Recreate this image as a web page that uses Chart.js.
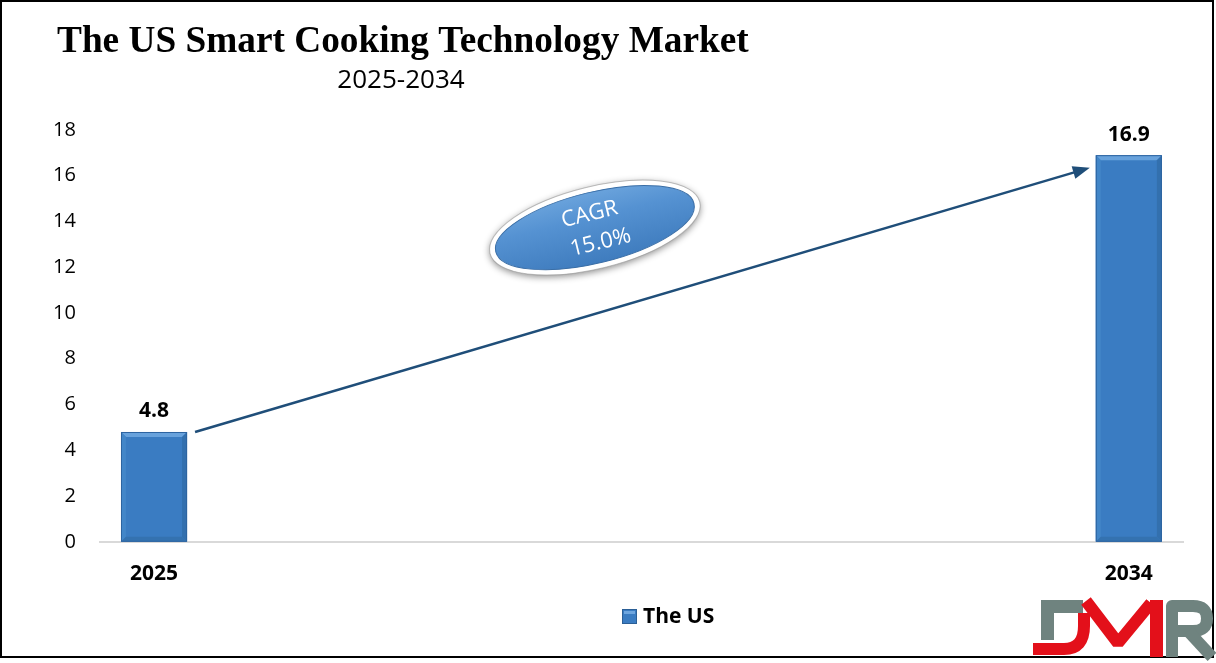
<!DOCTYPE html>
<html><head><meta charset="utf-8">
<script src="https://cdn.jsdelivr.net/npm/chart.js@4.4.1/dist/chart.umd.min.js"></script>
<style>html,body{margin:0;padding:0;background:#fff;}#wrap{width:1216px;height:663px;position:relative;}</style>
</head><body><div id="wrap"><canvas id="c" width="1216" height="663"></canvas></div>
<script>
const titleText = 'The US Smart Cooking Technology Market';
const subtitleText = '2025-2034';
const years = ['2025','2026','2027','2028','2029','2030','2031','2032','2033','2034'];
const values = [4.8, null, null, null, null, null, null, null, null, 16.9];
const seriesName = 'The US';
const cagrLines = ['CAGR', '15.0%'];
const yTicks = [0, 18, 2];

const BAR = '#3a7cc2';

const decor = {
  id: 'decor',
  beforeDraw(chart) {
    const ctx = chart.ctx;
    ctx.save();
    ctx.fillStyle = '#fff';
    ctx.fillRect(0, 0, chart.width, chart.height);
    ctx.restore();
  },
  afterDatasetsDraw(chart) {
    const ctx = chart.ctx;
    const meta = chart.getDatasetMeta(0);
    const ys = chart.scales.y;
    // bevel overlays on bars
    meta.data.forEach((el, i) => {
      if (values[i] == null) return;
      const l = el.x - el.width / 2, r = el.x + el.width / 2, t = el.y, b = el.base;
      const bv = 5;
      ctx.save();
      ctx.fillStyle = '#68a2dc';
      ctx.beginPath();
      ctx.moveTo(l, t); ctx.lineTo(r, t); ctx.lineTo(r - bv, t + bv); ctx.lineTo(l + bv, t + bv); ctx.closePath(); ctx.fill();
      ctx.fillStyle = '#4286c8';
      ctx.beginPath();
      ctx.moveTo(l, t); ctx.lineTo(l + bv, t + bv); ctx.lineTo(l + bv, b - bv); ctx.lineTo(l, b); ctx.closePath(); ctx.fill();
      ctx.fillStyle = '#3370ae';
      ctx.beginPath();
      ctx.moveTo(r, t); ctx.lineTo(r - bv, t + bv); ctx.lineTo(r - bv, b - bv); ctx.lineTo(r, b); ctx.closePath(); ctx.fill();
      ctx.fillStyle = '#3472b0';
      ctx.beginPath();
      ctx.moveTo(l, b); ctx.lineTo(l + bv, b - bv); ctx.lineTo(r - bv, b - bv); ctx.lineTo(r, b); ctx.closePath(); ctx.fill();
      ctx.strokeStyle = '#2d64a0';
      ctx.lineWidth = 1;
      ctx.strokeRect(l + 0.5, t + 0.5, el.width - 1, b - t - 1);
      ctx.restore();
    });
    // data labels
    ctx.save();
    ctx.font = 'bold 21px "Open Sans"';
    ctx.fillStyle = '#000';
    ctx.textAlign = 'center';
    ctx.textBaseline = 'bottom';
    meta.data.forEach((el, i) => {
      if (values[i] == null) return;
      ctx.fillText(values[i].toFixed(1), el.x, el.y - 10);
    });
    ctx.restore();
    // arrow
    const first = meta.data[0], last = meta.data[values.length - 1];
    const x1 = first.x + first.width / 2 + 8, y1 = ys.getPixelForValue(values[0]);
    const x2 = last.x - last.width / 2 - 6, y2 = ys.getPixelForValue(values[values.length - 1] - 0.55);
    ctx.save();
    ctx.strokeStyle = '#1f4e79';
    ctx.fillStyle = '#1f4e79';
    ctx.lineWidth = 2.5;
    const ang = Math.atan2(y2 - y1, x2 - x1);
    const hl = 17;
    ctx.beginPath();
    ctx.moveTo(x1, y1);
    ctx.lineTo(x2 - hl * 0.8 * Math.cos(ang), y2 - hl * 0.8 * Math.sin(ang));
    ctx.stroke();
    ctx.beginPath();
    ctx.moveTo(x2, y2);
    ctx.lineTo(x2 - hl * Math.cos(ang) + 6.5 * Math.sin(ang), y2 - hl * Math.sin(ang) - 6.5 * Math.cos(ang));
    ctx.lineTo(x2 - hl * Math.cos(ang) - 6.5 * Math.sin(ang), y2 - hl * Math.sin(ang) + 6.5 * Math.cos(ang));
    ctx.closePath();
    ctx.fill();
    ctx.restore();
    // CAGR ellipse
    const ca = chart.chartArea;
    const cx = ca.left + (ca.right - ca.left) * 0.457;
    const cy = ca.top + (ca.bottom - ca.top) * 0.237;
    ctx.save();
    ctx.translate(cx, cy);
    ctx.rotate(-0.24);
    ctx.shadowColor = 'rgba(0,0,0,0.45)';
    ctx.shadowBlur = 7;
    ctx.shadowOffsetY = 2;
    ctx.beginPath();
    ctx.ellipse(0, 0, 108, 41, 0, 0, Math.PI * 2);
    ctx.fillStyle = '#fff';
    ctx.fill();
    ctx.shadowColor = 'transparent';
    ctx.strokeStyle = 'rgba(150,150,150,0.6)';
    ctx.lineWidth = 1;
    ctx.stroke();
    ctx.beginPath();
    ctx.ellipse(0, 0, 102, 35.5, 0, 0, Math.PI * 2);
    const g = ctx.createLinearGradient(0, -36, 0, 36);
    g.addColorStop(0, '#6aa3dc');
    g.addColorStop(0.35, '#5592d2');
    g.addColorStop(1, '#3f7cbe');
    ctx.fillStyle = g;
    ctx.fill();
    ctx.strokeStyle = '#3a6ea6';
    ctx.lineWidth = 1;
    ctx.stroke();
    ctx.fillStyle = '#fff';
    ctx.font = '22px "Open Sans"';
    ctx.textAlign = 'center';
    ctx.textBaseline = 'middle';
    ctx.fillText(cagrLines[0], -2, -14);
    ctx.fillText(cagrLines[1], 2, 16);
    ctx.restore();
  },
  afterDraw(chart) {
    const ctx = chart.ctx;
    ctx.save();
    // title
    ctx.fillStyle = '#000';
    ctx.font = 'bold 37.3px "Liberation Serif"';
    ctx.textAlign = 'left';
    ctx.textBaseline = 'alphabetic';
    ctx.fillText(titleText, 57, 52);
    ctx.font = '26px "Open Sans"';
    ctx.textAlign = 'center';
    ctx.fillText(subtitleText, 401, 88);
    // legend
    const lx = 622, ly = 616;
    ctx.fillStyle = BAR;
    ctx.fillRect(lx, ly - 7, 15, 15);
    ctx.strokeStyle = '#2b5f96';
    ctx.lineWidth = 1;
    ctx.strokeRect(lx + 0.5, ly - 6.5, 14, 14);
    ctx.fillStyle = '#6ea6df';
    ctx.fillRect(lx + 2, ly - 5, 11, 3);
    ctx.fillStyle = '#000';
    ctx.font = 'bold 21px "Open Sans"';
    ctx.textAlign = 'left';
    ctx.textBaseline = 'middle';
    ctx.fillText(seriesName, lx + 21, ly + 1);
    // frame
    ctx.strokeStyle = '#000';
    ctx.lineWidth = 2;
    ctx.strokeRect(1, 1, 1212, 656);
    // logo
    const grey = '#6f837f', red = '#e3101a';
    ctx.lineCap = 'butt';
    ctx.fillStyle = grey;
    ctx.beginPath();
    ctx.moveTo(1041, 600); ctx.lineTo(1083, 600); ctx.lineTo(1083, 613); ctx.lineTo(1054, 613);
    ctx.lineTo(1054, 640); ctx.lineTo(1041, 640); ctx.closePath(); ctx.fill();
    ctx.strokeStyle = red;
    ctx.lineWidth = 12;
    ctx.lineJoin = 'miter';
    ctx.beginPath();
    ctx.moveTo(1033, 649); ctx.lineTo(1064, 649);
    ctx.quadraticCurveTo(1084, 649, 1084, 626);
    ctx.lineTo(1084, 613);
    ctx.stroke();
    ctx.lineJoin = 'bevel';
    ctx.beginPath();
    ctx.moveTo(1086, 601); ctx.lineTo(1118, 643); ctx.lineTo(1151, 603);
    ctx.stroke();
    ctx.fillStyle = red;
    ctx.fillRect(1150, 600, 13, 57);
    ctx.strokeStyle = grey;
    ctx.lineWidth = 12;
    ctx.lineJoin = 'round';
    ctx.beginPath();
    ctx.moveTo(1172, 657); ctx.lineTo(1172, 606); ctx.lineTo(1193, 606);
    ctx.quadraticCurveTo(1207, 606, 1207, 618.5);
    ctx.quadraticCurveTo(1207, 631, 1193, 631); ctx.lineTo(1176, 631);
    ctx.stroke();
    ctx.lineJoin = 'miter';
    ctx.beginPath();
    ctx.moveTo(1188, 631); ctx.lineTo(1212, 657); ctx.stroke();
    ctx.restore();
  }
};

new Chart(document.getElementById('c'), {
  type: 'bar',
  data: {
    labels: years,
    datasets: [{
      label: seriesName,
      data: values,
      backgroundColor: BAR,
      borderWidth: 0,
      barPercentage: 0.61,
      categoryPercentage: 1.0
    }]
  },
  options: {
    responsive: false,
    animation: false,
    devicePixelRatio: 1,
    layout: { padding: { top: 130, left: 29, right: 33, bottom: 56 } },
    scales: {
      x: {
        grid: { display: false, drawTicks: false },
        border: { display: true, color: '#d9d9d9', width: 2 },
        ticks: {
          autoSkip: false,
          maxRotation: 0,
          padding: 20,
          color: '#000',
          font: { family: 'Open Sans', size: 21, weight: 'bold' },
          callback: function(v, i) { return (i === 0 || i === years.length - 1) ? years[i] : ''; }
        }
      },
      y: {
        min: yTicks[0], max: yTicks[1],
        grid: { display: false, drawTicks: false },
        border: { display: false },
        ticks: {
          stepSize: yTicks[2],
          padding: 24,
          color: '#000',
          font: { family: 'Open Sans', size: 20 }
        }
      }
    },
    plugins: {
      legend: { display: false },
      tooltip: { enabled: false },
      title: { display: false }
    }
  },
  plugins: [decor]
});
</script></body></html>
